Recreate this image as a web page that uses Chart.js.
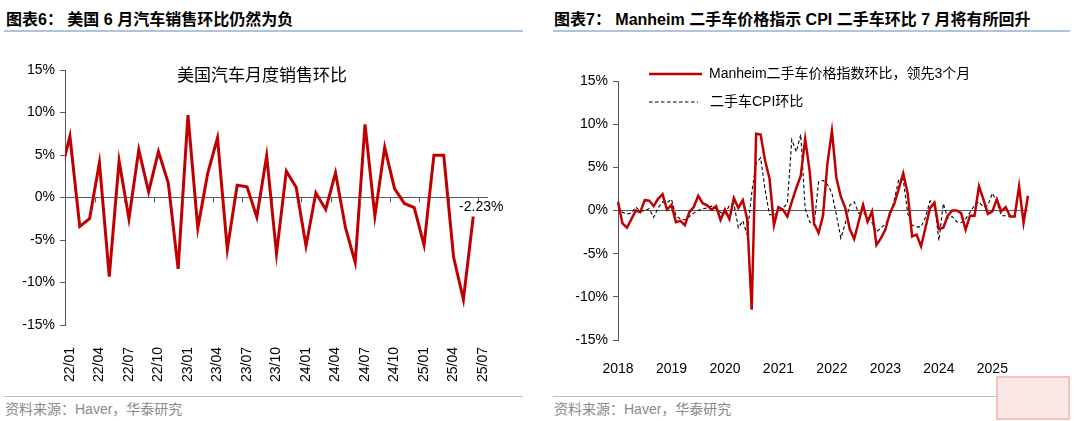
<!DOCTYPE html>
<html>
<head>
<meta charset="utf-8">
<script src="https://cdn.jsdelivr.net/npm/chart.js@4.4.1/dist/chart.umd.min.js"></script>
<style>
  html, body { margin: 0; padding: 0; }
  body { width: 1080px; height: 421px; background: #fff; position: relative; overflow: hidden;
         font-family: "Liberation Sans", "Noto Sans CJK SC", sans-serif; }
  .hdr { position: absolute; top: 12px; font-weight: bold; font-size: 16px; line-height: 16px; color: #000; white-space: nowrap;
         font-family: "Liberation Sans", "Noto Sans CJK SC", sans-serif; }
  .rule { position: absolute; height: 2px; background: #AFC3DE; }
  .rule2 { position: absolute; height: 1px; background: #AFC3DE; }
  .src { position: absolute; top: 402px; font-size: 14px; line-height: 14px; color: #8A8A8A; white-space: nowrap;
         font-family: "Liberation Sans", "Noto Sans CJK SC", sans-serif; }
  canvas { position: absolute; }
  .wm { position: absolute; left: 996px; top: 376px; width: 74px; height: 44px; background: #FBE9E8; border: 2px solid #F3C1BE; box-sizing: border-box; }
</style>
</head>
<body>
<div class="hdr" style="left:6px;">图表6：&nbsp;美国 6 月汽车销售环比仍然为负</div>
<div class="rule" style="left:4px; width:519px; top:30px;"></div>
<div class="hdr" style="left:554px;">图表7：&nbsp;Manheim 二手车价格指示 CPI 二手车环比 7 月将有所回升</div>
<div class="rule" style="left:553px; width:517px; top:30px;"></div>

<canvas id="c1" width="540" height="345" style="left:0px; top:40px; width:540px; height:345px;"></canvas>
<canvas id="c2" width="540" height="345" style="left:540px; top:40px; width:540px; height:345px;"></canvas>

<div class="rule2" style="left:4px; width:519px; top:396px;"></div>
<div class="src" style="left:5px;">资料来源：Haver，华泰研究</div>
<div class="rule2" style="left:553px; width:517px; top:396px;"></div>
<div class="src" style="left:554px;">资料来源：Haver，华泰研究</div>
<div class="wm"></div>

<script>
// ---------------- DATA ----------------
// Left chart: US auto sales MoM (%), monthly 21/12 .. 25/07 (axis shown from 22/01)
const salesStart = '22/01';
const salesLabels = ['21/12',
  '22/01','22/02','22/03','22/04','22/05','22/06','22/07','22/08','22/09','22/10','22/11','22/12',
  '23/01','23/02','23/03','23/04','23/05','23/06','23/07','23/08','23/09','23/10','23/11','23/12',
  '24/01','24/02','24/03','24/04','24/05','24/06','24/07','24/08','24/09','24/10','24/11','24/12',
  '25/01','25/02','25/03','25/04','25/05','25/06','25/07'];
const salesMoM = [2.6,
  7.2, -3.4, -2.5, 4.1, -9.3, 4.3, -2.5, 5.6, 0.66, 5.4, 1.7, -8.4,
  9.7, -3.6, 2.8, 7.0, -6.1, 1.45, 1.25, -2.3, 4.9, -6.6, 3.1, 1.2,
  -5.7, 0.55, -1.4, 2.9, -3.5, -7.65, 8.6, -2.2, 5.9, 1.05, -0.7, -1.2,
  -5.6, 4.96, 4.96, -7.0, -12.0, -2.23, null];
const salesTicks = [-15, -10, -5, 0, 5, 10, 15];
const salesTitle = '美国汽车月度销售环比';

// Right chart: monthly 2018-01 .. 2025-09
const usedMonths = [];
for (let y = 2018; y <= 2025; y++) {
  for (let m = 1; m <= 12; m++) {
    if (y === 2025 && m > 9) break;
    usedMonths.push(y + '-' + (m < 10 ? '0' + m : m));
  }
}
const manheimMoM = [
  1.0, -1.5, -2.0, -1.0, 0.0, -0.2, 1.2, 1.15, 0.5, 1.35,
  1.9, 0.1, 0.65, -1.35, -1.2, -1.7, -0.2, 0.4, 1.7, 0.85,
  0.6, 0.1, 0.5, -1.1, 0.1, -1.0, 1.45, 0.3, 1.2, -1.0,
  -11.5, 8.9, 8.8, 5.8, 3.7, -1.7, 0.4, 0.1, -0.7, 1.0,
  2.6, 4.0, 8.3, 4.6, -1.5, -2.6, -0.6, 5.5, 9.2, 3.8,
  1.6, 0.3, -2.15, -3.3, -1.3, 0.65, -1.3, -0.1, -4.0, -3.2,
  -2.2, -0.3, 0.77, 2.5, 4.3, 2.0, -3.0, -2.8, -4.15, -2.0,
  0.27, 0.9, -2.15, -2.0, -0.6, 0.0, 0.0, -0.3, -2.2, -0.6,
  -0.6, 2.8, 1.3, -0.4, -0.1, 1.3, -0.1, 0.4, -0.7, -0.7,
  2.8, -1.45, 1.7];
const usedCpiMoM = [
  0.4, -0.2, -0.4, -0.3, 0.4, -0.1, 0.0, 0.2, -0.8, 0.3,
  1.0, 0.9, 1.3, -0.6, -1.0, -1.1, -0.7, -0.3, 0.0, 0.2,
  0.3, 0.5, 0.2, -0.2, -0.4, 0.6, 0.8, -2.0, -1.2, -2.8,
  2.0, 5.5, 6.1, 2.4, -0.5, -0.5, -0.2, 0.3, 0.8, 8.2,
  6.8, 8.8, 0.2, -1.3, -1.7, 3.3, 3.5, 3.0, 2.0, -0.5,
  -3.2, -1.5, 0.6, 1.0, -0.3, -0.3, -0.7, -1.4, -2.5, -2.0,
  -1.6, -0.7, 1.2, 3.6, 3.6, -0.3, -1.7, -1.9, -1.9, -0.8,
  1.1, 1.0, -3.5, 0.8, -0.9, -0.7, -1.3, -1.4, -1.0, -0.2,
  0.6, 1.0, 0.4, 0.6, 2.0, 1.0, -0.6, -0.6, -0.7, -0.6,
  null, null, null];
const usedTicks = [-15, -10, -5, 0, 5, 10, 15];
const legendManheim = 'Manheim二手车价格指数环比，领先3个月';
const legendCpi = '二手车CPI环比';

// ---------------- STYLE ----------------
const FONT = '"Liberation Sans", "Noto Sans CJK SC", sans-serif';
const AXIS = '#595959';
const RED = '#C00000';
Chart.defaults.font.family = FONT;
Chart.defaults.font.size = 14;
Chart.defaults.color = '#000';

const zeroGrid = {
  color: (c) => (c.tick && c.tick.value === 0 ? AXIS : 'rgba(0,0,0,0)'),
  tickColor: AXIS,
  tickLength: 5,
  lineWidth: 1,
  drawTicks: true
};

// Tick marks on the zero line at quarter boundaries (left chart)
const quarterTicks = {
  id: 'quarterTicks',
  afterDatasetsDraw(chart) {
    const xs = chart.scales.x, ys = chart.scales.y, ctx = chart.ctx;
    const y0 = ys.getPixelForValue(0);
    const half = (xs.getPixelForValue(1) - xs.getPixelForValue(0)) / 2;
    ctx.save();
    ctx.strokeStyle = AXIS; ctx.lineWidth = 1;
    salesLabels.forEach((lab, i) => {
      if (i < salesLabels.indexOf(salesStart)) return;
      if (/\/(01|04|07|10)$/.test(lab)) {
        const x = Math.round(xs.getPixelForValue(i) - half) + 0.5;
        ctx.beginPath(); ctx.moveTo(x, y0); ctx.lineTo(x, y0 + 5); ctx.stroke();
      }
    });
    ctx.restore();
  }
};

const lastLabel = {
  id: 'lastLabel',
  afterDatasetsDraw(chart) {
    const meta = chart.getDatasetMeta(0);
    let idx = -1;
    salesMoM.forEach((v, i) => { if (v !== null) idx = i; });
    const pt = meta.data[idx];
    const ctx = chart.ctx;
    ctx.save();
    ctx.font = '14px ' + FONT;
    ctx.fillStyle = '#000';
    ctx.textAlign = 'center';
    ctx.textBaseline = 'middle';
    ctx.fillText(salesMoM[idx].toFixed(2) + '%', pt.x + 8, pt.y - 9);
    ctx.font = '17px "Noto Sans CJK SC", sans-serif';
    ctx.textAlign = 'left';
    ctx.fillText(salesTitle, 177, 35);
    ctx.restore();
  }
};

const legendPlugin = {
  id: 'legendPlugin',
  afterDraw(chart) {
    const ctx = chart.ctx;
    ctx.save();
    ctx.strokeStyle = RED; ctx.lineWidth = 2.5;
    ctx.beginPath(); ctx.moveTo(109, 34); ctx.lineTo(162, 34); ctx.stroke();
    ctx.strokeStyle = '#000'; ctx.lineWidth = 1; ctx.setLineDash([3.5, 2.5]);
    ctx.beginPath(); ctx.moveTo(109, 62); ctx.lineTo(158, 62); ctx.stroke();
    ctx.setLineDash([]);
    ctx.fillStyle = '#000';
    ctx.font = '14px ' + FONT;
    ctx.textBaseline = 'middle';
    ctx.fillText(legendManheim, 169, 34);
    ctx.fillText(legendCpi, 170, 62);
    ctx.restore();
  }
};

// ---------------- LEFT CHART ----------------
new Chart(document.getElementById('c1'), {
  type: 'line',
  data: {
    labels: salesLabels,
    datasets: [{
      data: salesMoM,
      borderColor: RED,
      borderWidth: 3,
      pointRadius: 0,
      tension: 0,
      fill: false
    }]
  },
  options: {
    responsive: false,
    animation: false,
    devicePixelRatio: 1,
    layout: { padding: { top: 30, right: 52, left: 0, bottom: 0 } },
    plugins: { legend: { display: false }, tooltip: { enabled: false } },
    scales: {
      x: {
        type: 'category',
        min: salesStart,
        offset: true,
        grid: { display: false },
        border: { display: false },
        afterFit: (s) => { s.height = 60; },
        ticks: {
          autoSkip: false, maxRotation: 90, minRotation: 90, padding: 14,
          font: { size: 14 }, color: '#000',
          callback: function (v) {
            const lab = this.getLabelForValue(v);
            return /\/(01|04|07|10)$/.test(lab) ? lab : '';
          }
        }
      },
      y: {
        min: -15, max: 15,
        afterBuildTicks: (s) => { s.ticks = salesTicks.map(v => ({ value: v })); },
        afterFit: (s) => { s.width = 65; },
        grid: zeroGrid,
        border: { display: true, color: AXIS, width: 1 },
        ticks: { padding: 5, font: { size: 14 }, color: '#000', callback: (v) => v + '%' }
      }
    }
  },
  plugins: [quarterTicks, lastLabel]
});

// ---------------- RIGHT CHART ----------------
new Chart(document.getElementById('c2'), {
  type: 'line',
  data: {
    labels: usedMonths,
    datasets: [{
      label: legendManheim,
      data: manheimMoM,
      borderColor: RED,
      borderWidth: 2.5,
      pointRadius: 0,
      tension: 0,
      fill: false
    }, {
      label: legendCpi,
      data: usedCpiMoM,
      borderColor: '#000',
      borderWidth: 1.1,
      borderDash: [3.5, 2.5],
      pointRadius: 0,
      tension: 0,
      fill: false
    }]
  },
  options: {
    responsive: false,
    animation: false,
    devicePixelRatio: 1,
    layout: { padding: { top: 41, right: 52, left: 0, bottom: 0 } },
    plugins: { legend: { display: false }, tooltip: { enabled: false } },
    scales: {
      x: {
        type: 'category',
        offset: false,
        grid: { display: false },
        border: { display: false },
        afterFit: (s) => { s.height = 45; },
        ticks: {
          autoSkip: false, maxRotation: 0, minRotation: 0, padding: 13,
          font: { size: 14 }, color: '#000',
          callback: function (v) {
            const lab = this.getLabelForValue(v);
            return lab.endsWith('-01') ? lab.slice(0, 4) : '';
          }
        }
      },
      y: {
        min: -15, max: 15,
        afterBuildTicks: (s) => { s.ticks = usedTicks.map(v => ({ value: v })); },
        afterFit: (s) => { s.width = 78; },
        grid: zeroGrid,
        border: { display: true, color: AXIS, width: 1 },
        ticks: { padding: 5, font: { size: 14 }, color: '#000', callback: (v) => v + '%' }
      }
    }
  },
  plugins: [legendPlugin]
});
</script>
</body>
</html>
